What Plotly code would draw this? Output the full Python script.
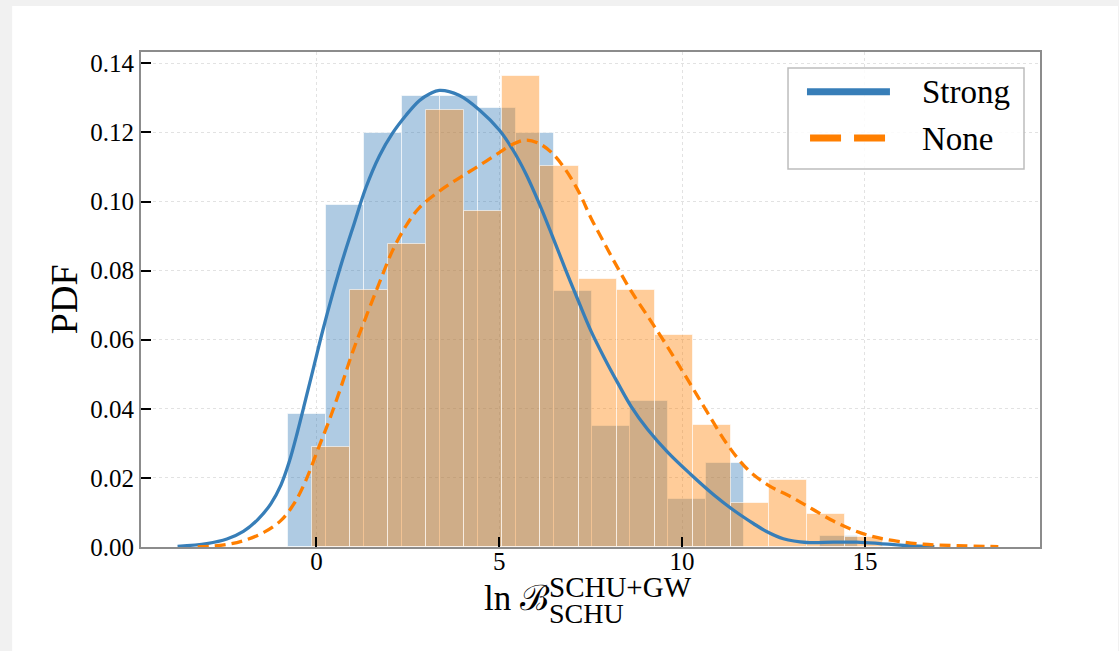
import plotly.graph_objects as go

# Histogram bin edges and normalised densities
strong_edges = [-0.78, 0.26, 1.30, 2.34, 3.38, 4.42, 5.46, 6.50, 7.54, 8.58,
                9.62, 10.66, 11.70, 12.74, 13.78, 14.82]
strong_density = [0.0386, 0.0989, 0.1199, 0.1306, 0.1306, 0.1271, 0.1199, 0.0741,
                  0.0351, 0.0422, 0.0138, 0.0244, 0.0, 0.0, 0.0032]

none_edges = [-0.13, 0.91, 1.95, 3.00, 4.04, 5.08, 6.12, 7.17, 8.21, 9.25,
              10.29, 11.33, 12.38, 13.42, 14.46, 15.50]
none_density = [0.0290, 0.0745, 0.0876, 0.1265, 0.0972, 0.1363, 0.1103, 0.0776,
                0.0745, 0.0615, 0.0354, 0.0128, 0.0193, 0.0095, 0.0030]

# Kernel density estimates
strong_kde_x = [-3.8, -3.0, -2.45, -2.0, -1.6, -1.25, -0.97, -0.75, -0.52, -0.29,
                -0.06, 0.17, 0.44, 0.71, 1.03, 1.35, 1.72, 2.08, 2.45, 2.81,
                3.10, 3.36, 3.90, 4.45, 5.00, 5.37, 5.73, 6.09, 6.46, 6.82,
                7.19, 7.51, 7.87, 8.24, 8.60, 9.06, 9.61, 10.24, 10.88, 11.43,
                11.95, 12.31, 12.77, 13.41, 14.14, 14.78, 15.41, 16.15, 16.9]
strong_kde_y = [0.0002, 0.0010, 0.0023, 0.0045, 0.0080, 0.0125, 0.0180, 0.0245, 0.0333, 0.0430,
                0.0528, 0.0626, 0.0732, 0.0830, 0.0936, 0.1040, 0.1132, 0.1198, 0.1250, 0.1292,
                0.1312, 0.1322, 0.1308, 0.1266, 0.1207, 0.1150, 0.1080, 0.0995, 0.0898, 0.0801,
                0.0705, 0.0625, 0.0548, 0.0475, 0.0408, 0.0340, 0.0274, 0.0210, 0.0150, 0.0105,
                0.0068, 0.0045, 0.0024, 0.0013, 0.0014, 0.0014, 0.0010, 0.0004, 0.0001]

none_kde_x = [-3.25, -2.53, -1.98, -1.43, -0.97, -0.61, -0.29, 0.03, 0.35, 0.67,
              0.99, 1.35, 1.72, 2.08, 2.45, 2.81, 3.36, 3.90, 4.45, 5.00,
              5.37, 5.73, 6.09, 6.46, 6.82, 7.19, 7.51, 7.87, 8.24, 8.60,
              9.06, 9.61, 10.15, 10.70, 11.25, 11.79, 12.34, 12.98, 13.56, 14.14,
              14.68, 15.23, 15.87, 16.60, 17.51, 18.65]
none_kde_y = [0.0, 0.0006, 0.0019, 0.0043, 0.0077, 0.0126, 0.0193, 0.0280, 0.0367, 0.0463,
              0.0565, 0.0665, 0.0765, 0.0858, 0.0930, 0.0982, 0.1030, 0.1068, 0.1104, 0.1142,
              0.1166, 0.1178, 0.1168, 0.1139, 0.1091, 0.1025, 0.0952, 0.0880, 0.0808, 0.0742,
              0.0668, 0.0578, 0.0485, 0.0388, 0.0295, 0.0225, 0.0180, 0.0145, 0.0110, 0.0075,
              0.0049, 0.0030, 0.0017, 0.0008, 0.0004, 0.0001]

x_ticks = [0, 5, 10, 15]
y_ticks = [0.00, 0.02, 0.04, 0.06, 0.08, 0.10, 0.12, 0.14]

BLUE = "#377eb8"
ORANGE = "#ff7f00"
SERIF = "Liberation Serif, DejaVu Serif, serif"


def centers(edges):
    return [(a + b) / 2 for a, b in zip(edges[:-1], edges[1:])]


def widths(edges):
    return [b - a for a, b in zip(edges[:-1], edges[1:])]


fig = go.Figure()

fig.add_trace(go.Bar(
    x=centers(strong_edges), y=strong_density, width=widths(strong_edges),
    marker=dict(color="rgba(55,126,184,0.4)",
                line=dict(color="rgba(255,255,255,0.6)", width=1)),
    name="Strong hist", showlegend=False, hoverinfo="skip",
))
fig.add_trace(go.Bar(
    x=centers(none_edges), y=none_density, width=widths(none_edges),
    marker=dict(color="rgba(255,127,0,0.4)",
                line=dict(color="rgba(255,255,255,0.6)", width=1)),
    name="None hist", showlegend=False, hoverinfo="skip",
))
fig.add_trace(go.Scatter(
    x=strong_kde_x, y=strong_kde_y, mode="lines", name="Strong",
    line=dict(color=BLUE, width=3.3, shape="spline", smoothing=1.0),
    showlegend=False,
))
fig.add_trace(go.Scatter(
    x=none_kde_x, y=none_kde_y, mode="lines", name="None",
    line=dict(color=ORANGE, width=3.3, dash="11px,6px", shape="spline", smoothing=1.0),
    showlegend=False,
))

axis_common = dict(
    showline=True, linecolor="#8c8c8c", linewidth=2, mirror=True,
    ticks="inside", ticklen=10, tickwidth=2, tickcolor="black",
    showgrid=True, gridcolor="#e2e2e2", gridwidth=1, griddash="dot",
    zeroline=False,
    tickfont=dict(family=SERIF, size=25, color="black"),
)

fig.update_xaxes(range=[-4.80, 19.79], tickvals=x_ticks,
                 ticktext=[str(v) for v in x_ticks], ticklabelstandoff=-9,
                 **axis_common)
fig.update_yaxes(range=[0, 0.1433], tickvals=y_ticks,
                 ticktext=[f"{v:.2f}" for v in y_ticks], **axis_common)

annotations = [
    # y-axis title
    dict(text="PDF", x=-0.086, y=0.5, xref="paper", yref="paper",
         textangle=-90, showarrow=False, xanchor="center", yanchor="middle",
         font=dict(family=SERIF, size=38, color="black")),
    # x-axis title: ln B with stacked super/subscript
    dict(text="ln ℬ", x=0.379, y=-0.1034, xref="paper", yref="paper",
         showarrow=False, xanchor="left", yanchor="middle",
         font=dict(family=SERIF, size=35, color="black")),
    dict(text="SCHU+GW", x=0.4516, y=-0.0800, xref="paper", yref="paper",
         showarrow=False, xanchor="left", yanchor="middle",
         font=dict(family=SERIF, size=29, color="black")),
    dict(text="SCHU", x=0.4516, y=-0.1350, xref="paper", yref="paper",
         showarrow=False, xanchor="left", yanchor="middle",
         font=dict(family=SERIF, size=28, color="black")),
    # legend labels
    dict(text="Strong", x=0.8665, y=0.9188, xref="paper", yref="paper",
         showarrow=False, xanchor="left", yanchor="middle",
         font=dict(family=SERIF, size=33, color="black")),
    dict(text="None", x=0.8665, y=0.8245, xref="paper", yref="paper",
         showarrow=False, xanchor="left", yanchor="middle",
         font=dict(family=SERIF, size=33, color="black")),
]

shapes = [
    # white card behind the figure
    dict(type="rect", xref="paper", yref="paper", x0=-0.1433, x1=1.0867,
         y0=-0.2101, y1=1.0929, fillcolor="white", line=dict(width=0), layer="below"),
    # legend frame
    dict(type="rect", xref="paper", yref="paper", x0=0.7197, x1=0.9822,
         y0=0.7636, y1=0.9677, fillcolor="rgba(255,255,255,0.85)",
         line=dict(color="#bdbdbd", width=1.5), layer="above"),
    # legend handles
    dict(type="line", xref="paper", yref="paper", x0=0.7408, x1=0.8331,
         y0=0.9198, y1=0.9198, line=dict(color=BLUE, width=7), layer="above"),
    dict(type="line", xref="paper", yref="paper", x0=0.7442, x1=0.8287,
         y0=0.8263, y1=0.8263, line=dict(color=ORANGE, width=7, dash="31px,13px"),
         layer="above"),
]

fig.update_layout(
    width=1119, height=651,
    margin=dict(l=141, r=79, t=52, b=104, pad=0),
    paper_bgcolor="#f1f1f1", plot_bgcolor="white",
    barmode="overlay", bargap=0,
    showlegend=False,
    annotations=annotations, shapes=shapes,
    font=dict(family=SERIF, color="black"),
)

fig.write_html("out.html")
